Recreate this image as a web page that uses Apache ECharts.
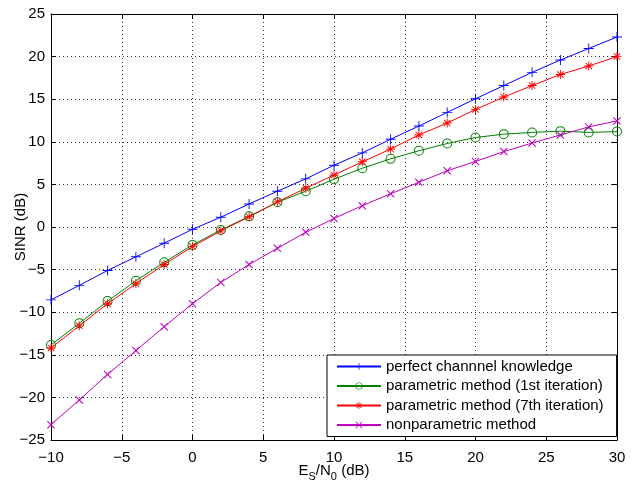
<!DOCTYPE html>
<html><head><meta charset="utf-8">
<script src="https://cdn.jsdelivr.net/npm/echarts@6/dist/echarts.min.js"></script>
<style>html,body{margin:0;padding:0;background:#fff}#c{width:636px;height:488px}</style>
</head><body><div id="c"></div>
<script>
const esn0 = [-10,-8,-6,-4,-2,0,2,4,6,8,10,12,14,16,18,20,22,24,26,28,30];
const perfect = [-8.55,-6.85,-5.1,-3.5,-1.9,-0.27,1.15,2.7,4.2,5.65,7.25,8.7,10.3,11.85,13.45,15.05,16.6,18.15,19.6,20.95,22.3];
const param1 = [-13.85,-11.3,-8.7,-6.3,-4.15,-2.1,-0.35,1.25,2.9,4.2,5.6,6.9,8.0,8.95,9.8,10.5,10.9,11.1,11.25,11.1,11.2];
const param7 = [-14.2,-11.6,-9.0,-6.65,-4.4,-2.3,-0.45,1.2,2.95,4.55,6.1,7.65,9.15,10.8,12.2,13.8,15.25,16.6,17.9,18.9,20.0];
const nonparam = [-23.2,-20.3,-17.3,-14.5,-11.7,-9.0,-6.5,-4.4,-2.5,-0.62,1.0,2.5,3.9,5.25,6.6,7.7,8.85,9.85,10.8,11.75,12.45];
const names = ['perfect channnel knowledge','parametric method (1st iteration)','parametric method (7th iteration)','nonparametric method'];
const xTicks = [-10,-5,0,5,10,15,20,25,30];
const yTicks = [-25,-20,-15,-10,-5,0,5,10,15,20,25];

function armsPath(angles, w){
  let p = 'path://';
  angles.forEach(a=>{
    const r = a*Math.PI/180, c=Math.cos(r), s=Math.sin(r);
    const pts = [[-1,-w],[1,-w],[1,w],[-1,w]].map(([x,y])=>[(x*c - y*s).toFixed(3),(x*s + y*c).toFixed(3)]);
    p += 'M'+pts[0].join(',')+'L'+pts[1].join(',')+'L'+pts[2].join(',')+'L'+pts[3].join(',')+'Z';
  });
  return p;
}
function ringPath(w){
  const ro=1, ri=1-w;
  return 'path://M'+ro+',0A'+ro+','+ro+' 0 1,1 '+(-ro)+',0A'+ro+','+ro+' 0 1,1 '+ro+',0Z'+
         'M'+ri+',0A'+ri+','+ri+' 0 1,0 '+(-ri)+',0A'+ri+','+ri+' 0 1,0 '+ri+',0Z';
}
const plusSym = armsPath([0,90],0.09);
const xSym = armsPath([45,135],0.1);
const starSym = armsPath([0,90,45,135],0.1);
const ringSym = ringPath(0.2);

function mk(name, vals, color, symbol, size){
  return {
    name, type:'line', data: esn0.map((x,i)=>[x, vals[i]]),
    symbol, symbolSize: size, showSymbol:true,
    lineStyle:{color, width:1}, itemStyle:{color, borderWidth:0},
    animation:false, z: 3
  };
}

const chart = echarts.init(document.getElementById('c'));
const font = 'Liberation Sans, Arial, Helvetica, sans-serif';
const tick = {show:true,inside:true,length:5,lineStyle:{color:'#000'}};
chart.setOption({
  backgroundColor:'#fff',
  textStyle:{fontFamily:font},
  grid:{left:51,right:19,top:14,bottom:48,show:false,containLabel:false,outerBoundsMode:'none'},
  xAxis:[{
    type:'value', min:-10, max:30, interval:5,
    axisLine:{show:true,onZero:false,lineStyle:{color:'#000',width:1}},
    axisTick:tick,
    axisLabel:{color:'#000',fontSize:15,margin:10,fontFamily:font,formatter:v=>xTicks.includes(v)?String(v).replace('-','\u2212'):''},
    splitLine:{show:true,lineStyle:{color:'#333',type:[1,3],width:1}},
    name:'{a|E}{s|S}{a|/N}{s|0}{a| (dB)}', nameLocation:'middle', nameGap:22, nameMoveOverlap:false,
    nameTextStyle:{rich:{a:{fontSize:15,color:'#000',fontFamily:font,lineHeight:18},s:{fontSize:11,color:'#000',fontFamily:font,padding:[11,0,0,0],lineHeight:18}}}
  },{
    type:'value', position:'top', min:-10, max:30, interval:5,
    axisLine:{show:true,onZero:false,lineStyle:{color:'#000',width:1}},
    axisTick:tick, axisLabel:{show:false}, splitLine:{show:false}
  }],
  yAxis:[{
    type:'value', min:-25, max:25, interval:5,
    axisLine:{show:true,onZero:false,lineStyle:{color:'#000',width:1}},
    axisTick:tick,
    axisLabel:{color:'#000',fontSize:15,margin:6,fontFamily:font,formatter:v=>yTicks.includes(v)?String(v).replace('-','\u2212'):''},
    splitLine:{show:true,lineStyle:{color:'#333',type:[1,3],width:1}},
    name:'SINR (dB)', nameLocation:'middle', nameGap:23, nameMoveOverlap:false,
    nameTextStyle:{fontSize:15,color:'#000',fontFamily:font}
  },{
    type:'value', position:'right', min:-25, max:25, interval:5,
    axisLine:{show:true,onZero:false,lineStyle:{color:'#000',width:1}},
    axisTick:tick, axisLabel:{show:false}, splitLine:{show:false}
  }],
  legend:{
    orient:'vertical', left:327, top:355,
    backgroundColor:'#fff', borderColor:'#000', borderWidth:1, borderRadius:0,
    padding:[3,13,3,9], itemWidth:44, itemHeight:9, itemGap:2.5,
    textStyle:{fontSize:15,color:'#000',fontFamily:font,lineHeight:17},
    data:names
  },
  series:[
    mk(names[0], perfect, '#0000ff', plusSym, 10),
    mk(names[1], param1, '#008000', ringSym, 10),
    mk(names[2], param7, '#ff0000', starSym, 9),
    mk(names[3], nonparam, '#bf00bf', xSym, 8)
  ]
});
</script></body></html>
